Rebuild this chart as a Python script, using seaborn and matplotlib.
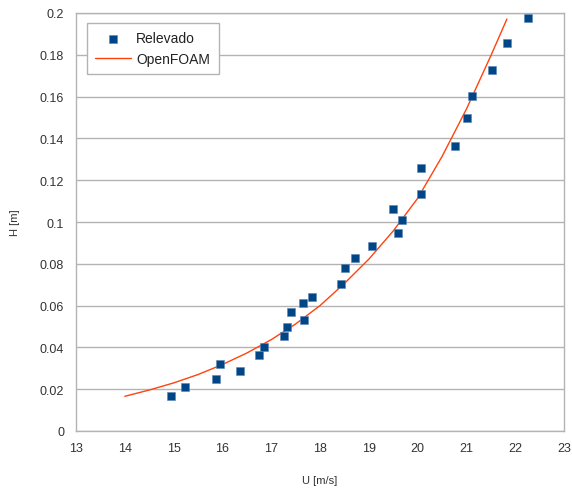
import matplotlib
matplotlib.use("Agg")
import matplotlib.pyplot as plt
import seaborn as sns
import pandas as pd

# Measured data (Relevado)
u_meas = [14.95, 15.23, 15.87, 15.95, 16.36, 16.75, 16.85, 17.26, 17.32, 17.41,
          17.65, 17.67, 17.84, 18.43, 18.51, 18.72, 19.07, 19.50, 19.60, 19.68,
          20.07, 20.07, 20.77, 21.01, 21.11, 21.52, 21.83, 22.26]
h_meas = [0.0167, 0.0211, 0.0249, 0.0321, 0.0287, 0.0364, 0.0402, 0.0455, 0.0498, 0.0569,
          0.0612, 0.0531, 0.0641, 0.0703, 0.0780, 0.0828, 0.0885, 0.1062, 0.0947, 0.1010,
          0.1258, 0.1134, 0.1364, 0.1498, 0.1603, 0.1727, 0.1856, 0.1976]

# OpenFOAM simulation
u_sim = [14.0, 14.5, 15.0, 15.5, 16.0, 16.5, 17.0, 17.5, 18.0, 18.5,
         19.0, 19.5, 20.0, 20.5, 21.0, 21.5, 21.83]
h_sim = [0.0166, 0.0196, 0.0230, 0.0270, 0.0318, 0.0373, 0.0437, 0.0512, 0.0600, 0.0706,
         0.0822, 0.0957, 0.1113, 0.1313, 0.1540, 0.1795, 0.1971]

x_ticks = [13, 14, 15, 16, 17, 18, 19, 20, 21, 22, 23]
y_ticks = [0, 0.02, 0.04, 0.06, 0.08, 0.1, 0.12, 0.14, 0.16, 0.18, 0.2]
y_ticklabels = ["0", "0.02", "0.04", "0.06", "0.08", "0.1", "0.12", "0.14", "0.16", "0.18", "0.2"]

sns.set_style("white")
plt.rcParams['font.family'] = ['Liberation Sans', 'DejaVu Sans']

df_meas = pd.DataFrame({"U": u_meas, "H": h_meas})
df_sim = pd.DataFrame({"U": u_sim, "H": h_sim})

fig = plt.figure(figsize=(5.72, 4.89), dpi=100)
ax = fig.add_axes([76/572, 1-432/489, (564-76)/572, (432-14)/489])

grey = "#b3b3b3"
sns.lineplot(data=df_sim, x="U", y="H", ax=ax, color="#ff420e", linewidth=1.0,
             label="OpenFOAM", sort=False, zorder=3)
sns.scatterplot(data=df_meas, x="U", y="H", ax=ax, marker="s", s=30, color="#004586",
                edgecolor="#5a86b3", linewidth=0.4, label="Relevado", zorder=4)

ax.set_xlim(13, 23)
ax.set_ylim(0, 0.2)
ax.set_xticks(x_ticks)
ax.set_yticks(y_ticks)
ax.set_yticklabels(y_ticklabels)
ax.yaxis.grid(True, color=grey, linewidth=1)
ax.xaxis.grid(False)
ax.set_axisbelow(True)
for sp in ax.spines.values():
    sp.set_color(grey)
    sp.set_linewidth(1)
ax.tick_params(axis="both", colors=grey, labelcolor="#333333", labelsize=9,
               length=5, width=1, direction="out")
ax.tick_params(axis="x", pad=3)
ax.set_xlabel("U [m/s]", fontsize=8, color="#333333", labelpad=15)
ax.set_ylabel("H [m]", fontsize=8, color="#333333", labelpad=14)

handles, labels = ax.get_legend_handles_labels()
order = [labels.index("Relevado"), labels.index("OpenFOAM")]
leg = ax.legend([handles[i] for i in order], [labels[i] for i in order],
                loc="upper left", bbox_to_anchor=((87-76)/488, (432-24)/418),
                borderaxespad=0, fancybox=False,
                framealpha=1, edgecolor=grey, fontsize=10, handlelength=2.6,
                borderpad=0.6, labelspacing=0.45, handletextpad=0.35)
leg.get_frame().set_linewidth(1)
for t in leg.get_texts():
    t.set_color("#222222")

fig.savefig("out.png", dpi=100)
